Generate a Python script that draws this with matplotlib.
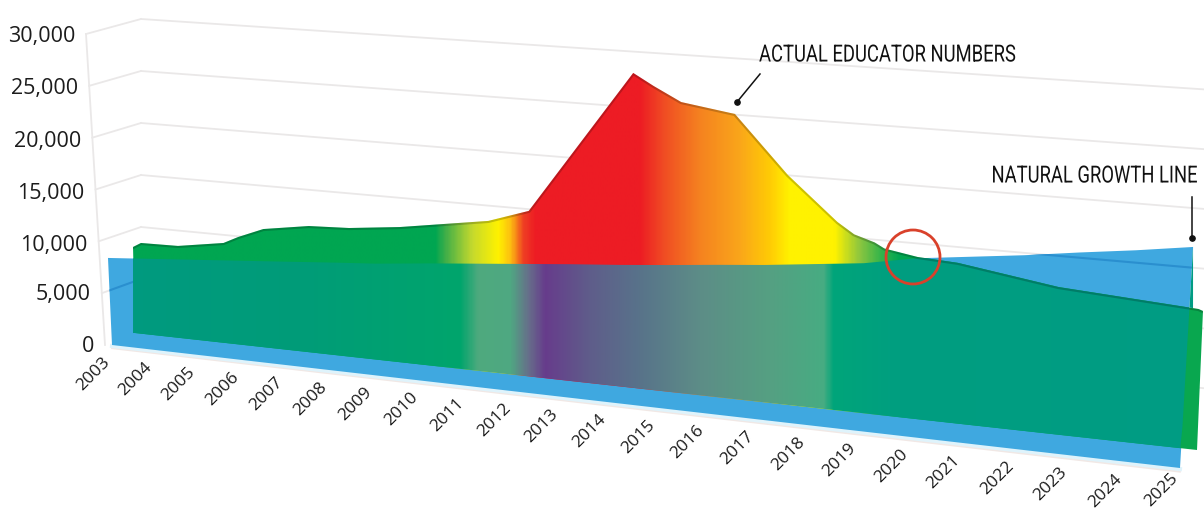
import numpy as np
import matplotlib
matplotlib.use('Agg')
import matplotlib.pyplot as plt
from matplotlib.colors import LinearSegmentedColormap
from matplotlib.path import Path
from matplotlib.patheffects import AbstractPathEffect
from matplotlib.transforms import Affine2D, Transform

# data
tick_years = list(range(2003, 2026))
tick_values = [0, 5000, 10000, 15000, 20000, 25000, 30000]
tick_labels = ['0', '5,000', '10,000', '15,000', '20,000', '25,000', '30,000']

educator_years = [2003.0, 2003.19, 2004.06, 2005.12, 2005.46, 2006.04, 2007.07, 2007.97, 2009.09,
                  2011.01, 2011.87, 2014.02, 2014.44, 2015.0, 2016.08, 2017.15, 2018.14, 2018.47,
                  2018.87, 2019.06, 2019.7, 2020.47, 2022.36, 2024.92, 2025.0]
educator_values = [8270, 8730, 8790, 9490, 10190, 11170, 11850, 12010, 12530,
                   13830, 15070, 28280, 27230, 25970, 25250, 20210, 16450, 15500,
                   14950, 14500, 14020, 13820, 12530, 11760, 11630]

natural_years = tick_years
natural_values = [8370, 8700, 9030, 9360, 9700, 10050, 10350, 10800, 11200, 11600, 12000, 12350,
                  12750, 13200, 13600, 14100, 14600, 15450, 16000, 16550, 17200, 17800, 18490]

K = 0.13
SCALE = 10.4 / 1000


class Plane(Transform):
    # (year, value) -> picture pixels, with a bit of perspective
    input_dims = 2
    output_dims = 2

    def __init__(self, x0, x1, y0, y1, lean0, lean1):
        super().__init__()
        self.x0, self.x1, self.y0, self.y1 = x0, x1, y0, y1
        self.lean0, self.lean1 = lean0, lean1

    def transform_non_affine(self, pts):
        pts = np.asarray(pts, dtype=float)
        t = (pts[:, 0] - 2003) / 22
        w = 1 - K * t
        xb = (self.x0 + (self.x1 * (1 - K) - self.x0) * t) / w
        yb = (self.y0 + (self.y1 * (1 - K) - self.y0) * t) / w
        s = SCALE * pts[:, 1] / w
        lean = self.lean0 + (self.lean1 - self.lean0) * t
        return np.column_stack([xb - lean * s, yb - s])


class Condense(AbstractPathEffect):
    # squeeze the glyphs sideways, there is no condensed font here
    def __init__(self, cx, fx):
        super().__init__()
        self.cx, self.fx = cx, fx

    def draw_path(self, renderer, gc, tpath, affine, rgbFace=None):
        squeeze = Affine2D().translate(-self.cx, 0).scale(self.fx, 1).translate(self.cx, 0)
        renderer.draw_path(gc, tpath, affine + squeeze, rgbFace)


wall = Plane(141, 1204, 331, 448, 0, 0)
back = Plane(135, 1197, 333, 450, 0.023, -0.043)
front = Plane(112, 1180, 345, 468, 0.046, -0.059)


def axis_xy(v):
    return 105 - 19 * v / 30000, 345 - 311 * v / 30000


def gradient(stops):
    xs = [s[0] for s in stops]
    span = xs[-1] - xs[0]
    pos = [(x - xs[0]) / span for x in xs]
    cmap = LinearSegmentedColormap.from_list('g', list(zip(pos, [s[1] for s in stops])), N=1024)
    return cmap(np.linspace(0, 1, 1204))[None, :, :], (xs[0], xs[-1], 480, 50)


upper_stops = [(120, '#00a651'), (435, '#00a651'), (445, '#3fae49'), (472, '#c5d92d'), (498, '#fff200'),
               (510, '#fdc010'), (523, '#ef4023'), (535, '#ed1c24'), (640, '#ed1c24'), (665, '#f04e23'),
               (700, '#f58220'), (740, '#faa61a'), (770, '#ffcb05'), (790, '#fff200'), (835, '#fff200'),
               (860, '#8dc63f'), (880, '#39b54a'), (900, '#00a651'), (1204, '#0aa84f')]
lower_stops = [(120, '#009a80'), (300, '#009c78'), (460, '#00a56c'), (478, '#4eaa7e'), (510, '#4fa882'),
               (528, '#66708a'), (545, '#673c8c'), (590, '#5f5d8a'), (640, '#58738a'), (700, '#5d8d87'),
               (770, '#55a082'), (824, '#47ac82'), (834, '#00a57a'), (900, '#009e80'), (1204, '#009c84')]

fig = plt.figure(figsize=(12.04, 5.09), dpi=100)
ax = fig.add_axes([0, 0, 1, 1])
ax.axis('off')
plt.rcParams['font.family'] = ['Open Sans', 'DejaVu Sans']

wall_tr = wall + ax.transData
back_tr = back + ax.transData
front_tr = front + ax.transData

# grid: side wall + back wall
grid_col = '#eae8e8'
for v in tick_values[1:]:
    ax.plot([axis_xy(v)[0], wall.transform([[2003, v]])[0, 0]],
            [axis_xy(v)[1], wall.transform([[2003, v]])[0, 1]], color=grid_col, lw=1.3, zorder=1)
    ax.plot([2003, 2025], [v, v], color=grid_col, lw=1.3, transform=wall_tr, zorder=1)
ax.plot([axis_xy(0)[0], axis_xy(30000)[0]], [axis_xy(0)[1], axis_xy(30000)[1]], color=grid_col, lw=1.3, zorder=1)

# floor line under the blue plane
ax.plot([2003, 2025], [-300, -300], color='#f1e8e5', lw=1.5, transform=front_tr, zorder=1)
ax.plot([2003, 2025], [-90, -90], color='#dff3fb', lw=3, transform=front_tr, zorder=1)

# natural growth plane
blue_x = [2003] + natural_years + [2025]
blue_y = [0] + natural_values + [0]
blue = ax.fill(blue_x, blue_y, color='#3fa8e0', lw=0, transform=front_tr, zorder=2)[0]

# grid showing through the blue
for v in tick_values[1:4]:
    a = wall.transform([[2003, v]])[0]
    l1, = ax.plot([axis_xy(v)[0], a[0]], [axis_xy(v)[1], a[1]], color='#2a8fcf', lw=1.5, zorder=3)
    l2, = ax.plot([2003, 2025], [v, v], color='#2a8fcf', lw=1.5, transform=wall_tr, zorder=3)
    l1.set_clip_path(blue)
    l2.set_clip_path(blue)

# actual educator area, upper colours
area_pts = np.column_stack([[2003] + educator_years + [2025], [0] + educator_values + [0]])
img, ext = gradient(upper_stops)
im = ax.imshow(img, extent=ext, aspect='auto', interpolation='bilinear', zorder=4)
im.set_clip_path(Path(area_pts), transform=back_tr)

# part of the area seen through the blue plane
green_px = back.transform(np.column_stack([educator_years, educator_values]))
blue_px = front.transform(np.column_stack([natural_years, natural_values]))
base_px = back.transform(np.column_stack([tick_years, np.zeros(len(tick_years))]))
floor_r = front.transform([[2025, 0]])[0]
top_r = blue_px[-1]
xs = np.linspace(green_px[0, 0], top_r[0], 500)
top = np.maximum(np.interp(xs, green_px[:, 0], green_px[:, 1]), np.interp(xs, blue_px[:, 0], blue_px[:, 1]))
edge = floor_r[1] + (xs - floor_r[0]) * (top_r[1] - floor_r[1]) / (top_r[0] - floor_r[0])
bottom = np.interp(xs, base_px[:, 0], base_px[:, 1])
bottom = np.where(xs > floor_r[0], np.minimum(bottom, edge), bottom)
overlap = np.column_stack([np.r_[xs, xs[::-1]], np.r_[top, bottom[::-1]]])
img2, ext2 = gradient(lower_stops)
im2 = ax.imshow(img2, extent=ext2, aspect='auto', interpolation='bilinear', zorder=5)
im2.set_clip_path(Path(overlap), transform=ax.transData)

# darker rim along the top of the area, inside it
rim, = ax.plot(educator_years, educator_values, color='#000000', alpha=0.2, lw=3, transform=back_tr, zorder=6)
rim.set_clip_path(Path(area_pts), transform=back_tr)

# tick labels
txt = '#1c1c1c'
label_nudge = [1, 1, 4, 4, 4, 3, 2]
for v, lab, dy in zip(tick_values, tick_labels, label_nudge):
    x, y = axis_xy(v)
    ax.text(x - 11, y + dy, lab, ha='right', va='center', fontsize=15.5, color=txt, zorder=7)
floor_pts = front.transform(np.column_stack([tick_years, np.zeros(len(tick_years))]))
for yr, (x, y) in zip(tick_years, floor_pts):
    # last label would run off the bottom edge
    dy = 22 if yr == 2025 else 29
    ax.text(x - 19, y + dy, str(yr), rotation=45, ha='center', va='center', fontsize=12.5, color=txt, zorder=7)

# annotations
ax.text(759, 55, 'ACTUAL EDUCATOR NUMBERS', ha='left', va='center', fontsize=17, family='Roboto',
        color='#111111', zorder=8, path_effects=[Condense(759, 0.78)])
ax.text(1198, 176, 'NATURAL GROWTH LINE', ha='right', va='center', fontsize=17, family='Roboto',
        color='#111111', zorder=8, path_effects=[Condense(1198, 0.78)])
ax.plot([760, 737], [74, 102], color='#111111', lw=1.1, zorder=8)
ax.plot([737], [102], 'o', color='#111111', ms=3.8, zorder=8)
ax.plot([1192, 1192], [197, 238], color='#111111', lw=1.1, zorder=8)
ax.plot([1192], [238], 'o', color='#111111', ms=3.8, zorder=8)
ax.add_patch(plt.Circle((913, 257), 27, fill=False, edgecolor='#d9412b', lw=2, zorder=8))

ax.set_xlim(0, 1204)
ax.set_ylim(509, 0)
fig.savefig('out.png', dpi=100, facecolor='white')
